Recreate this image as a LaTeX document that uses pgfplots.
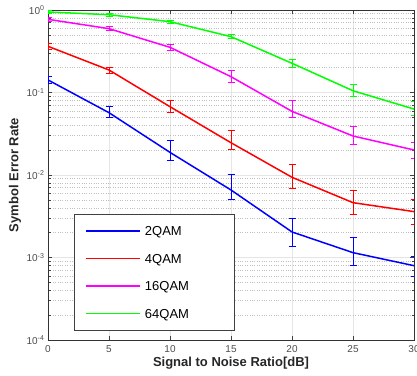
\documentclass[border=0pt]{standalone}
\usepackage{fontspec}
\setmainfont{Liberation Sans}
\usepackage{pgfplots}
\pgfplotsset{compat=1.18}
\definecolor{cblue}{RGB}{0,0,255}
\definecolor{cred}{RGB}{255,0,0}
\definecolor{cmag}{RGB}{255,0,255}
\definecolor{cgreen}{RGB}{0,255,0}
\pgfplotsset{
  ser/.style={draw=#1, line width=1.5pt, forget plot,
    error bars/y dir=both, error bars/y explicit,
    error bars/draw error bar/.code 2 args={%
      \draw[draw=#1, line width=0.8pt, solid] ##1 -- ##2 ++(-3.5pt,0pt) -- ++(7pt,0pt);}},
}
\begin{document}
\begin{tikzpicture}
\begin{axis}[
  name=ax,
  scale only axis,
  width=366pt, height=330pt,
  ymode=log,
  xmin=0, xmax=30, ymin=1e-4, ymax=1,
  xtick={0,5,10,15,20,25,30},
  ytick={1e-4,1e-3,1e-2,1e-1,1},
  yticklabels={10\textsuperscript{-4},10\textsuperscript{-3},10\textsuperscript{-2},10\textsuperscript{-1},10\textsuperscript{0}},
  /pgf/number format/assume math mode=true,
  tick label style={font=\fontsize{10}{10}\selectfont, text=black!70},
  xticklabel style={yshift=-2pt},
  tick align=inside,
  major tick length=4pt, minor tick length=2.5pt,
  tick style={draw=black!75, line width=0.6pt},
  axis line style={draw=black!80, line width=0.8pt},
  xmajorgrids, ymajorgrids, yminorgrids,
  major grid style={draw=black!10, line width=0.6pt},
  minor grid style={draw=black!25, dotted, line width=0.6pt},
  xlabel={\textbf{Signal to Noise Ratio[dB]}},
  ylabel={\textbf{Symbol Error Rate}},
  label style={font=\fontsize{13}{13}\selectfont, text=black!85},
  xlabel style={at={(axis description cs:0.5,-0.07)}, anchor=center},
  ylabel style={at={(axis description cs:-0.09,0.5)}, anchor=center},
  legend cell align=left,
  legend style={at={(rel axis cs:0.071,0.382)}, anchor=north west,
    draw=black!75, line width=0.9pt, fill=white,
    font=\fontsize{13}{13}\selectfont,
    inner xsep=11pt, inner ysep=12pt, row sep=18pt, column sep=4pt,
    nodes={inner sep=0pt, text height=9.5pt, text depth=0pt}},
  legend image code/.code={\draw[#1] (0pt,0pt) -- (54pt,0pt);},
]
\addplot[ser=cblue] coordinates {
(0,0.142) += (0,0.013) -= (0,0.013)
(5,0.0569) += (0,0.0104) -= (0,0.0069)
(10,0.0188) += (0,0.0077) -= (0,0.0039)
(15,0.00658) += (0,0.00372) -= (0,0.00151)
(20,0.00204) += (0,0.00091) -= (0,0.00066)
(25,0.001145) += (0,0.000605) -= (0,0.000342)
(30,0.000796) += (0,0.000224) -= (0,0.000211)
};
\addplot[ser=cred] coordinates {
(0,0.363) += (0,0.031) -= (0,0.029)
(5,0.1874) += (0,0.0166) -= (0,0.0164)
(10,0.0673) += (0,0.0137) -= (0,0.0098)
(15,0.0246) += (0,0.0098) -= (0,0.0041)
(20,0.00938) += (0,0.00412) -= (0,0.00248)
(25,0.00462) += (0,0.0019) -= (0,0.00125)
(30,0.0036) += (0,0.00148) -= (0,0.00105)
};
\addplot[ser=cmag] coordinates {
(0,0.771) += (0,0.044) -= (0,0.042)
(5,0.594) += (0,0.034) -= (0,0.032)
(10,0.353) += (0,0.031) -= (0,0.026)
(15,0.1555) += (0,0.0285) -= (0,0.0215)
(20,0.0591) += (0,0.0205) -= (0,0.0091)
(25,0.0297) += (0,0.0096) -= (0,0.0062)
(30,0.0201) += (0,0.0048) -= (0,0.0042)
};
\addplot[ser=cgreen] coordinates {
(0,0.946) += (0,0.04) -= (0,0.04)
(5,0.877) += (0,0.03) -= (0,0.03)
(10,0.722) += (0,0.03) -= (0,0.03)
(15,0.475) += (0,0.027) -= (0,0.026)
(20,0.226) += (0,0.026) -= (0,0.024)
(25,0.105) += (0,0.021) -= (0,0.0143)
(30,0.063) += (0,0.0144) -= (0,0.0096)
};
\addlegendimage{draw=cblue, line width=1.5pt}
\addlegendentry{\makebox[79pt][l]{2QAM}}
\addlegendimage{draw=cred, line width=1.5pt}
\addlegendentry{4QAM}
\addlegendimage{draw=cmag, line width=1.5pt}
\addlegendentry{16QAM}
\addlegendimage{draw=cgreen, line width=1.5pt}
\addlegendentry{64QAM}
\end{axis}
\pgfresetboundingbox
\path[use as bounding box] ([shift={(-48pt,-36pt)}]ax.south west) rectangle ([shift={(3pt,10pt)}]ax.north east);
\end{tikzpicture}
\end{document}
